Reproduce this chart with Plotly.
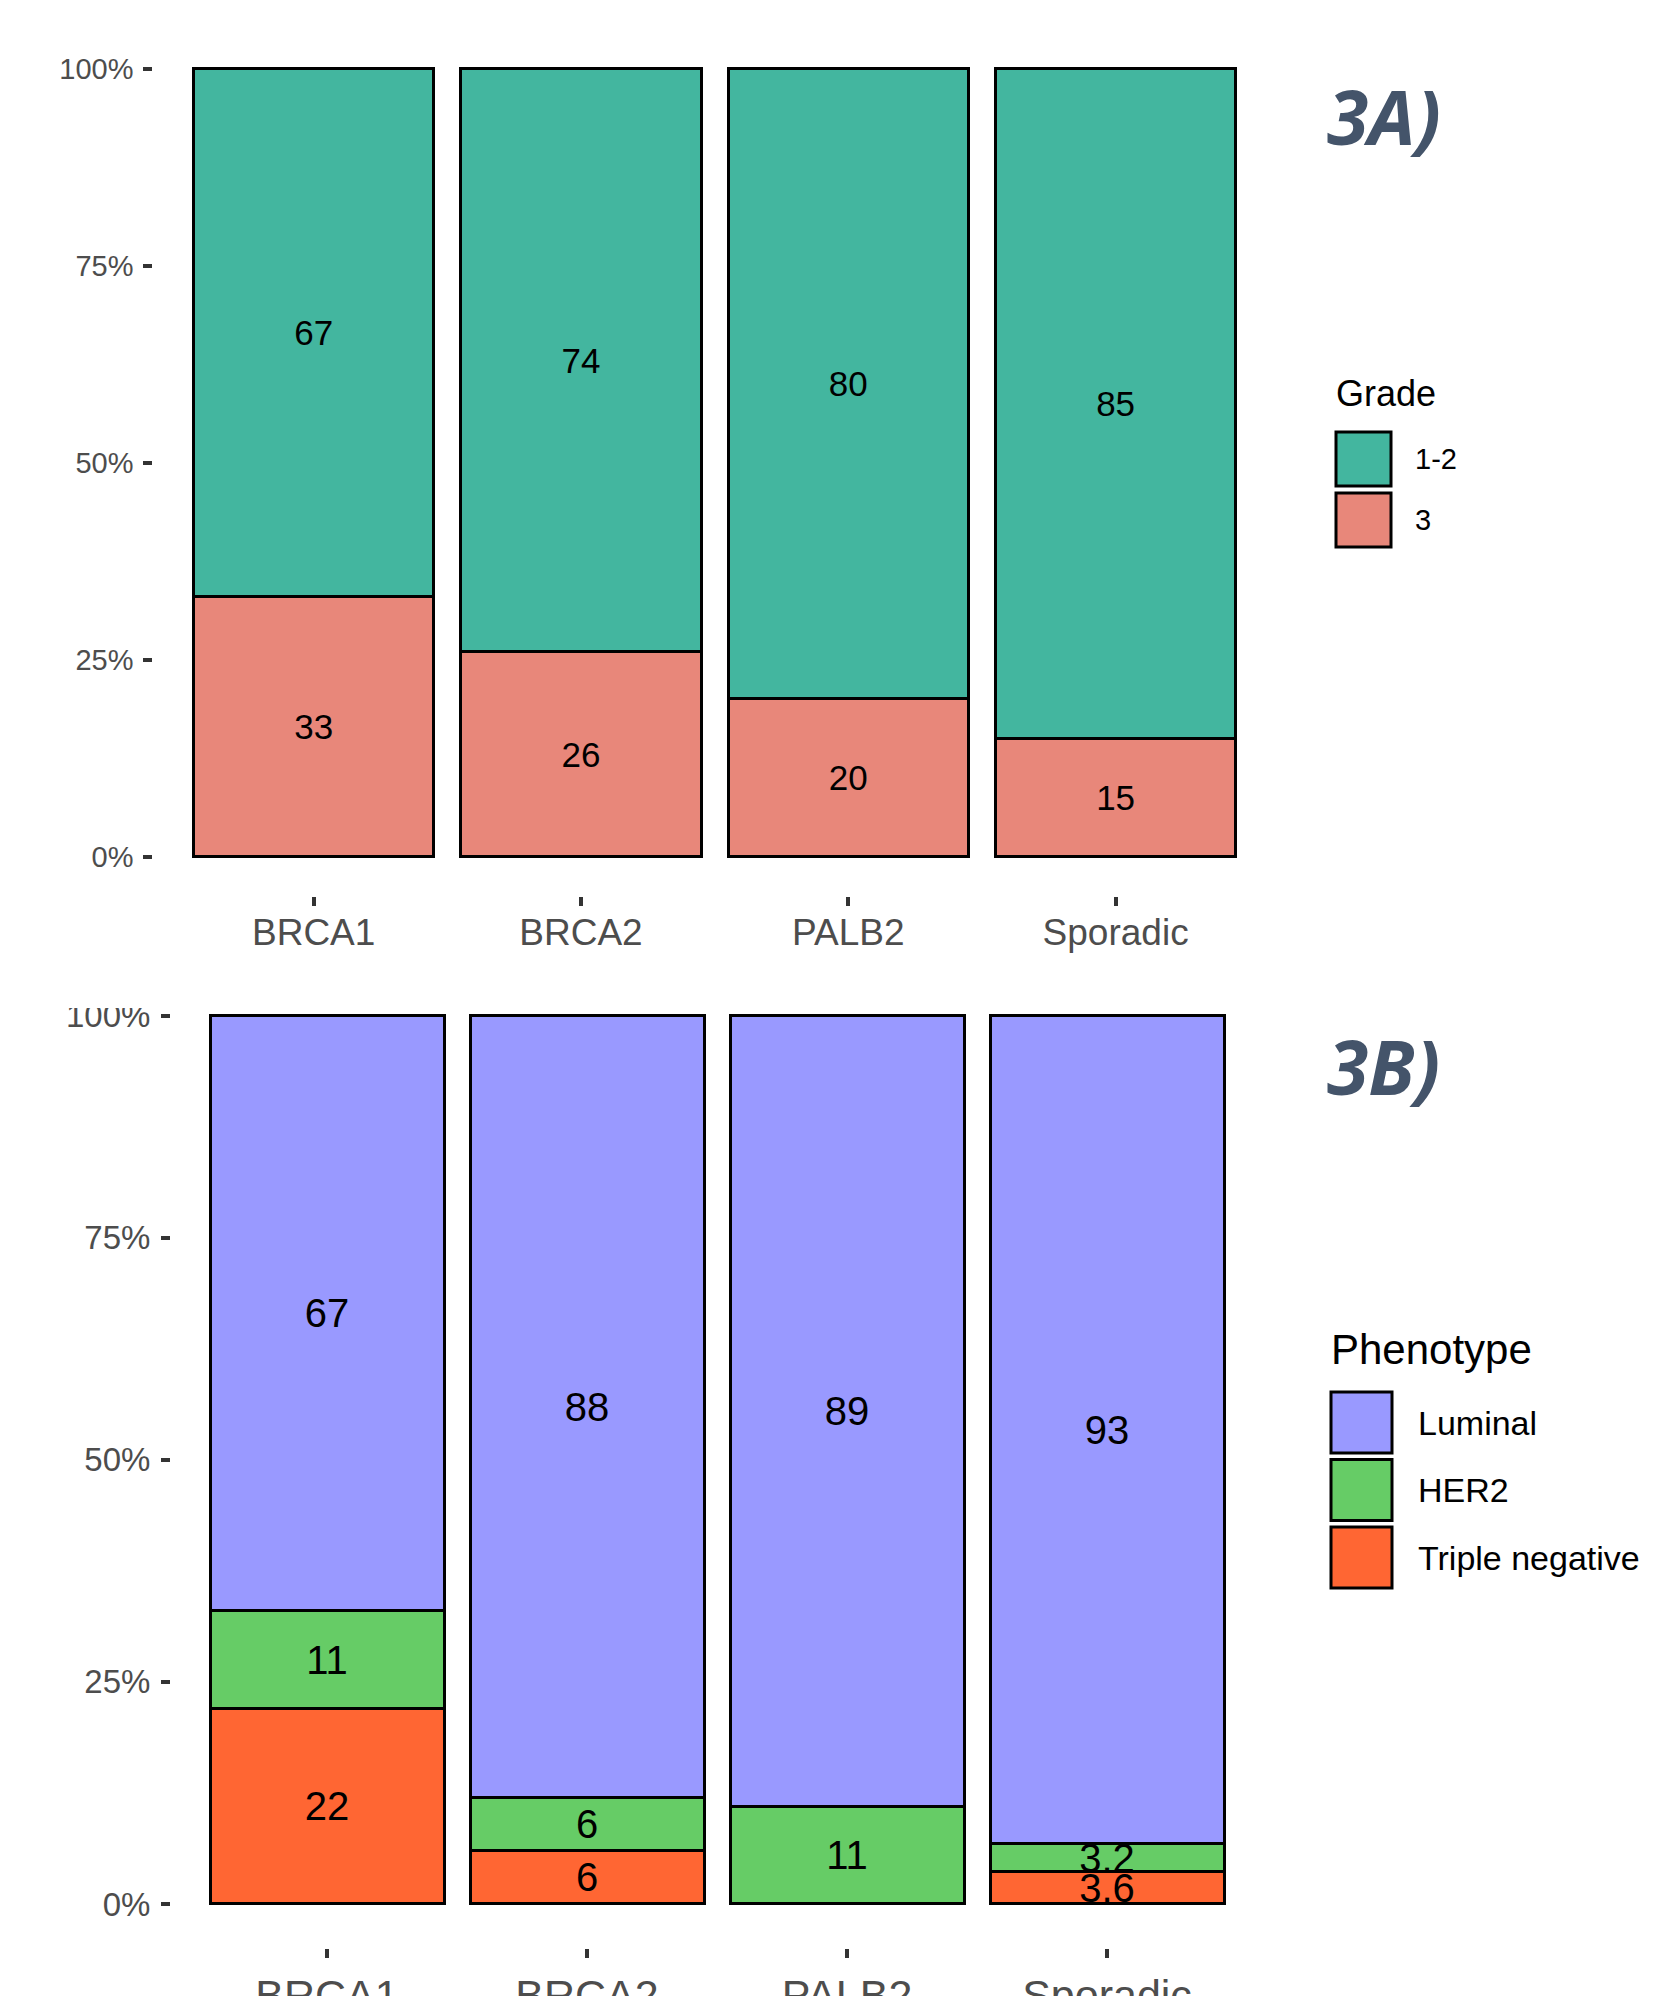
import plotly.graph_objects as go

W, H = 1657, 1996

categories = ["BRCA1", "BRCA2", "PALB2", "Sporadic"]

# Panel 3A: Grade (%)
grade_levels = ["1-2", "3"]
grade_1_2 = [67, 74, 80, 85]
grade_3 = [33, 26, 20, 15]
grade_colors = ["#43B69F", "#E8877A"]

# Panel 3B: Phenotype (%)
pheno_levels = ["Luminal", "HER2", "Triple negative"]
luminal = [67, 88, 89, 93]
her2 = [11, 6, 11, 3.2]
triple_negative = [22, 6, 0, 3.6]
pheno_colors = ["#9999FF", "#66CC66", "#FF6633"]

y_ticks = [0, 25, 50, 75, 100]
y_ticktext = ["0%", "25%", "50%", "75%", "100%"]

FONT = "Liberation Sans, Arial, sans-serif"


def px_x(p):
    return p / W


def px_y(p):
    return 1 - p / H


def labels(vals):
    return [f"{v:g}" if v > 0 else "" for v in vals]


fig = go.Figure()

# top panel: stack bottom -> top (3 at bottom, 1-2 on top)
for name, vals, col in [("3", grade_3, grade_colors[1]), ("1-2", grade_1_2, grade_colors[0])]:
    fig.add_trace(go.Bar(
        x=categories, y=vals, name=name, xaxis="x", yaxis="y",
        marker=dict(color=col, line=dict(color="black", width=3)),
        text=labels(vals), textposition="inside", insidetextanchor="middle",
        textangle=0, constraintext="none",
        textfont=dict(family=FONT, size=35, color="black"),
        hoverinfo="skip", showlegend=False,
    ))

# bottom panel: Triple negative bottom, HER2, Luminal top
for name, vals, col in [("Triple negative", triple_negative, pheno_colors[2]),
                        ("HER2", her2, pheno_colors[1]),
                        ("Luminal", luminal, pheno_colors[0])]:
    fig.add_trace(go.Bar(
        x=categories, y=vals, name=name, xaxis="x2", yaxis="y2",
        marker=dict(color=col, line=dict(color="black", width=3)),
        text=labels(vals), textposition="inside", insidetextanchor="middle",
        textangle=0, constraintext="none",
        textfont=dict(family=FONT, size=40, color="black"),
        hoverinfo="skip", showlegend=False,
    ))

axis_common = dict(showgrid=False, zeroline=False, showline=False, ticks="outside",
                   ticklen=9, tickwidth=3.5, tickcolor="#333333")

fig.update_layout(
    width=W, height=H,
    margin=dict(l=0, r=0, t=0, b=0),
    paper_bgcolor="white", plot_bgcolor="white",
    barmode="stack", barnorm="percent", bargap=0.1,
    showlegend=False,
    xaxis=dict(domain=[px_x(153.3), px_x(1276)], range=[-0.6, 3.6], anchor="y",
               type="category", categoryorder="array", categoryarray=categories,
               tickfont=dict(family=FONT, size=37, color="#4D4D4D"), automargin=False,
               ticklabelstandoff=-5, **axis_common),
    yaxis=dict(domain=[px_y(895.9), px_y(29.3)], range=[-5, 105], anchor="x",
               tickvals=y_ticks, ticktext=y_ticktext,
               tickfont=dict(family=FONT, size=29, color="#4D4D4D"), automargin=False,
               ticklabelstandoff=4, **axis_common),
    xaxis2=dict(domain=[px_x(171), px_x(1263)], range=[-0.6, 3.6], anchor="y2",
                type="category", categoryorder="array", categoryarray=categories,
                tickfont=dict(family=FONT, size=43, color="#4D4D4D"), automargin=False,
                **axis_common),
    yaxis2=dict(domain=[px_y(1948.4), px_y(971.2)], range=[-5, 105], anchor="x2",
                tickvals=y_ticks, ticktext=y_ticktext,
                tickfont=dict(family=FONT, size=33, color="#4D4D4D"), automargin=False,
                ticklabelstandoff=4, **axis_common),
)

annotations = []
shapes = []

# panel tags
for tag, yc in [("3A)", 116), ("3B)", 1066)]:
    annotations.append(dict(
        text=tag, xref="paper", yref="paper", x=px_x(1325), y=px_y(yc),
        xanchor="left", yanchor="middle", showarrow=False,
        font=dict(family="Open Sans, sans-serif", size=75, color="#44546A",
                  weight="bold", style="italic"),
    ))


def legend(title, names, colors, x0, key_w, title_y, first_top, key_h, step, title_size, label_size, label_x):
    annotations.append(dict(
        text=title, xref="paper", yref="paper", x=px_x(x0 - 2), y=px_y(title_y),
        xanchor="left", yanchor="middle", showarrow=False,
        font=dict(family=FONT, size=title_size, color="black"),
    ))
    for i, (nm, col) in enumerate(zip(names, colors)):
        top = first_top + i * step
        shapes.append(dict(
            type="rect", xref="paper", yref="paper",
            x0=px_x(x0), x1=px_x(x0 + key_w), y0=px_y(top + key_h), y1=px_y(top),
            fillcolor=col, line=dict(color="black", width=3),
        ))
        annotations.append(dict(
            text=nm, xref="paper", yref="paper", x=px_x(label_x), y=px_y(top + key_h / 2),
            xanchor="left", yanchor="middle", showarrow=False,
            font=dict(family=FONT, size=label_size, color="black"),
        ))


legend("Grade", grade_levels, grade_colors, 1336, 55, 393, 432, 54, 61, 36, 29, 1413)
legend("Phenotype", pheno_levels, pheno_colors, 1331, 61, 1349, 1392, 61, 67.5, 42, 34, 1416)

# the lower panel's top tick label is partly hidden under the upper panel in the source
shapes.append(dict(type="rect", xref="paper", yref="paper", layer="above",
                   x0=px_x(50), x1=px_x(150), y0=px_y(1008), y1=px_y(985),
                   fillcolor="white", line=dict(width=0)))

fig.update_layout(annotations=annotations, shapes=shapes)

fig.write_html("out.html", config={"displayModeBar": False})
